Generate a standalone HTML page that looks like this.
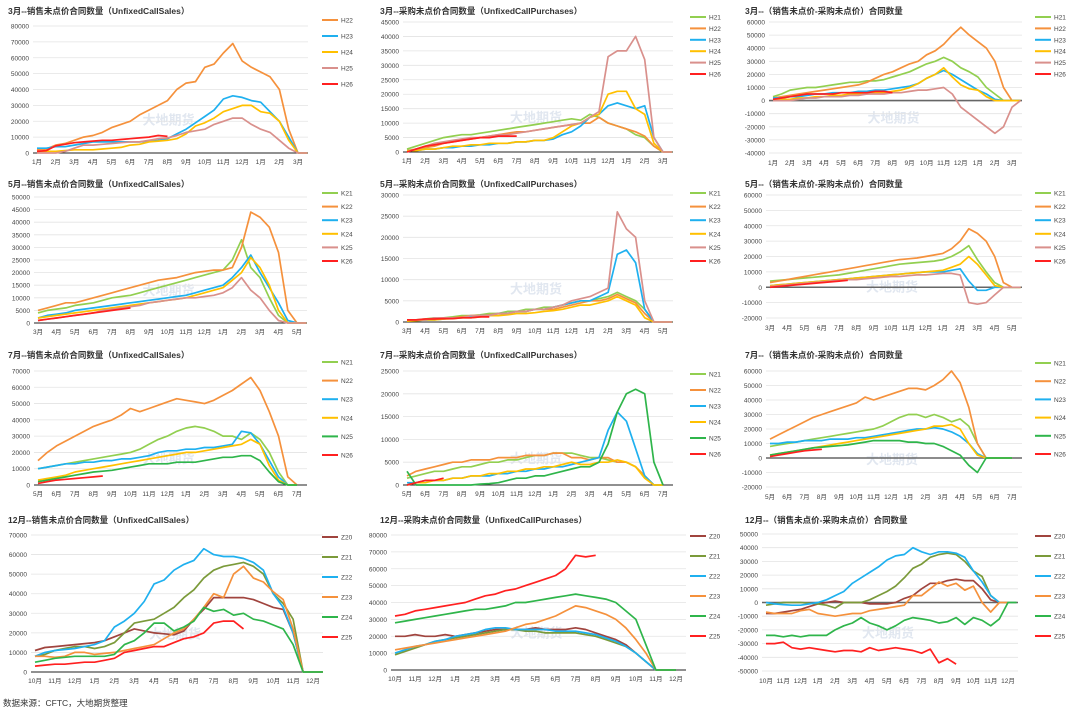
<!DOCTYPE html>
<html><head><meta charset="utf-8">
<style>
html,body{margin:0;padding:0;background:#fff;}
body{width:1080px;height:710px;overflow:hidden;position:relative;font-family:"Liberation Sans","Noto Sans CJK SC",sans-serif;}
svg{position:absolute;left:0;top:0;}
</style></head>
<body>
<svg id="chart" width="1080" height="710"></svg>
<script>
const C={o:'#f5913c',b:'#1fb0ef',y:'#ffc000',p:'#d9908c',r:'#ff2020',g:'#92cf50',dg:'#2fb54b',br:'#a0443e',ol:'#7b9a3a'};
const labelsH=['1月','2月','3月','4月','5月','6月','7月','8月','9月','10月','11月','12月','1月','2月','3月'];
const labelsK=['3月','4月','5月','6月','7月','8月','9月','10月','11月','12月','1月','2月','3月','4月','5月'];
const labelsN=['5月','6月','7月','8月','9月','10月','11月','12月','1月','2月','3月','4月','5月','6月','7月'];
const labelsZ=['10月','11月','12月','1月','2月','3月','4月','5月','6月','7月','8月','9月','10月','11月','12月'];

// R1C1
const h1_H22=[2000,2500,5000,6000,8000,10000,11000,13000,16000,18000,20000,24000,27000,30000,33000,40000,44000,45000,54000,56000,63000,69000,58000,54000,51000,48000,40000,15000,0,0];
const h1_H23=[3000,3000,4000,4000,5000,6000,7000,7000,7000,7000,7000,7000,7500,8000,9000,12000,15000,19000,23000,27000,34000,36000,35000,33000,32000,26000,20000,10000,0,0];
const h1_H24=[1000,1000,1000,1500,2000,2000,2000,2500,3000,3500,5000,5500,7000,7500,8000,9000,12000,17000,19000,22000,26000,28000,30000,30000,26000,25000,20000,8000,0,0];
const h1_H25=[0,0,0,1000,3000,5000,5000,5500,6000,6500,7000,7000,8000,9000,9500,11000,13000,14000,15000,18000,20000,22000,22000,18000,15000,13000,8000,3000,0,0];
const h1_H26=[1000,1500,4500,5500,6500,7000,7500,8000,8000,8500,9000,9500,10000,11000,10500];
// R1C2
const h2_H21=[1000,2000,3000,4000,5000,5500,6000,6000,6500,7000,7500,8000,8500,9000,9500,10000,10500,11000,11500,11000,13000,12000,10000,9000,8000,6000,5000,2000,0,0];
const h2_H22=[500,1000,1500,2000,3000,3500,4000,4500,5000,5500,6000,6500,7000,7000,7500,8000,8500,9000,9500,10000,10000,12000,10000,9000,8000,7000,5500,2000,0,0];
const h2_H23=[500,500,1000,1000,1500,1500,2000,2000,2500,2500,3000,3000,3500,3500,4000,4000,4500,6000,7000,9000,12000,13000,16000,17000,16000,15000,16000,5000,0,0];
const h2_H24=[500,500,1000,1000,1500,2000,2000,2500,2500,3000,3000,3000,3500,3500,4000,4000,5000,7000,9000,10000,12000,13000,20000,21000,21000,15000,13000,3000,0,0];
const h2_H25=[0,1000,2000,3000,3500,4000,4500,5000,5000,5500,6000,6000,6500,7000,7500,8000,8500,9000,9500,10000,12000,14000,33000,35000,35000,40000,32000,5000,0,0];
const h2_H26=[0,1000,2000,2500,3000,3500,4000,4500,5000,5000,5500,5500,5500];
// R1C3
const h3_H21=[3000,5000,8000,9000,10000,10000,11000,12000,13000,14000,14000,15000,15000,16000,18000,20000,22000,25000,28000,30000,33000,30000,25000,22000,18000,10000,5000,0,0,0];
const h3_H22=[2000,3000,4000,5000,6000,7000,8000,9000,10000,11000,12000,14000,17000,20000,22000,25000,28000,30000,35000,38000,43000,50000,56000,50000,45000,40000,30000,10000,0,0];
const h3_H23=[2000,2000,3000,3000,4000,5000,5000,6000,6000,6000,7000,7000,8000,8000,9000,10000,11000,13000,17000,20000,23000,20000,16000,12000,8000,5000,1000,0,0,0];
const h3_H24=[500,1000,1000,2000,2000,3000,3000,4000,4000,5000,5000,5000,6000,6000,7000,8000,10000,13000,17000,20000,25000,18000,12000,9000,8000,3000,0,0,0,0];
const h3_H25=[0,0,0,1000,2000,2000,3000,3000,3000,4000,4000,5000,5000,5000,6000,6000,7000,8000,8000,9000,10000,5000,-5000,-10000,-15000,-20000,-25000,-20000,-5000,0];
const h3_H26=[1000,2000,3000,4000,5000,5000,5000,5000,6000,6000,6000,6000,7000,7000,6000];
// R2C1
const k1_K21=[4000,5000,5500,6000,7000,7500,8000,9000,10000,10500,11000,12000,13000,14000,15000,16000,17000,18000,19000,20000,21000,25000,33000,22000,18000,10000,3000,0,0,0];
const k1_K22=[5000,6000,7000,8000,8000,9000,10000,11000,12000,13000,14000,15000,16000,17000,17500,18000,19000,20000,20500,21000,21000,22000,30000,44000,42000,38000,28000,5000,0,0];
const k1_K23=[2000,3000,3500,4000,5000,5500,6000,6500,7000,7500,8000,8500,9000,9500,10000,10500,11000,12000,13000,14000,15000,18000,22000,27000,20000,14000,8000,1000,0,0];
const k1_K24=[2000,2500,3000,3500,4000,4500,5000,5500,6000,6500,7000,7500,8000,8500,9000,9500,10000,11000,12000,13000,14000,17000,20000,26000,22000,15000,5000,0,0,0];
const k1_K25=[1000,1500,2000,2500,3000,3500,4000,5000,5500,6000,6500,7000,8000,8500,9000,9500,10000,10000,10500,11000,12000,14000,18000,13000,10000,5000,1000,0,0,0];
const k1_K26=[1000,1500,2000,2500,3000,3500,4000,4500,5000,5500,6000];
// R2C2
const k2_K21=[500,500,700,1000,1000,1200,1500,1500,1700,2000,2000,2500,2500,3000,3000,3500,3500,4000,4500,5000,5000,5500,6000,7000,6000,5000,3000,0,0,0];
const k2_K22=[300,500,500,700,1000,1000,1200,1500,1500,1700,2000,2000,2500,2500,3000,3000,3000,3500,4000,4500,5000,5000,5500,6500,5500,4500,2000,0,0,0];
const k2_K23=[300,300,500,500,700,1000,1000,1200,1500,1500,2000,2000,2500,2500,3000,3000,3500,4000,4500,5000,5000,6000,7000,16000,17000,14000,3000,0,0,0];
const k2_K24=[200,300,500,500,700,800,1000,1000,1200,1500,1500,1700,2000,2000,2200,2500,2700,3000,3500,4000,4000,4500,5000,6000,5000,4000,1000,0,0,0];
const k2_K25=[500,500,500,1000,1000,1000,1000,1500,1500,1500,2000,2000,2500,2500,3000,3000,3500,4000,5000,5500,6000,7000,8000,26000,22000,20000,5000,0,0,0];
const k2_K26=[500,500,700,700,800,800,1000,1000,1200,1200];
// R2C3
const k3_K21=[4000,4500,5000,5500,6000,6500,7000,7500,8000,9000,10000,11000,12000,13000,14000,15000,15500,16000,16500,17000,18000,20000,23000,27000,18000,10000,3000,0,0,0];
const k3_K22=[3000,4000,5000,6000,7000,8000,9000,10000,11000,12000,13000,14000,15000,16000,17000,18000,18500,19000,20000,21000,22000,25000,30000,38000,35000,30000,20000,3000,0,0];
const k3_K23=[1000,1500,2000,2500,3000,3500,4000,4500,5000,5500,6000,6500,7000,7500,8000,8500,9000,9500,10000,10000,10000,11000,12000,4000,-2000,-2000,0,0,0,0];
const k3_K24=[1000,1500,2000,2500,3000,3500,4000,4500,5000,5500,6000,6500,7000,7500,8000,8500,9000,9500,10000,10500,11000,13000,15000,20000,15000,8000,1000,0,0,0];
const k3_K25=[500,1000,1500,2000,2500,3000,3500,4000,4500,5000,5000,5500,6000,6500,7000,7000,7500,8000,8000,8500,9000,9000,8000,-10000,-11000,-10000,-5000,0,0,0];
const k3_K26=[0,500,1000,1500,2000,2500,3000,3500,4000,4500];
// R3C1
const n1_N21=[10000,11000,12000,13000,14000,15000,16000,17000,18000,19000,20000,22000,25000,28000,30000,33000,35000,36000,35000,33000,30000,30000,28000,32000,28000,20000,8000,0,0];
const n1_N22=[15000,20000,24000,27000,30000,33000,36000,38000,40000,43000,47000,45000,47000,49000,51000,53000,52000,51000,50000,52000,55000,58000,62000,66000,58000,45000,30000,5000,0];
const n1_N23=[10000,11000,12000,13000,13000,14000,14000,15000,15000,16000,16000,17000,18000,20000,21000,21000,22000,22000,23000,23000,24000,25000,33000,32000,25000,15000,5000,0,0];
const n1_N24=[3000,4000,5000,6000,8000,9000,10000,11000,12000,13000,14000,15000,16000,17000,18000,19000,20000,20000,21000,22000,23000,24000,25000,28000,25000,12000,3000,0,0];
const n1_N25=[2000,3000,4000,5000,6000,7000,8000,8500,9000,10000,11000,12000,13000,13000,13000,14000,14000,14000,15000,16000,17000,17000,18000,18000,15000,8000,2000,0,0];
const n1_N26=[1000,2000,3000,3500,4000,4500,5000,5500];
// R3C2
const n2_N21=[1500,2000,2500,3000,3000,3500,4000,4000,4500,5000,5000,5500,5500,6000,6500,6500,7000,7000,7000,6500,6000,6000,5500,5000,5000,4000,2000,0,0];
const n2_N22=[2000,3000,3500,4000,4500,5000,5000,5500,5500,5500,6000,6000,6000,6500,6500,6500,7000,7000,6000,6000,5500,6000,6000,5000,5000,4000,2000,0,0];
const n2_N23=[500,500,1000,1000,1000,1500,1500,2000,2000,2000,2500,2500,3000,3000,3500,3500,4000,4000,4500,5000,5500,6000,12000,16000,14000,8000,2000,0,0];
const n2_N24=[0,500,500,1000,1000,1500,1500,2000,2000,2500,2500,3000,3000,3500,3500,4000,4000,4500,5000,4500,4500,5000,5000,5500,5000,4000,1500,0,0];
const n2_N25=[3000,0,0,0,0,0,0,0,200,300,500,1000,1500,1500,2000,2000,2500,3000,3500,4000,4000,5000,9000,16000,20000,21000,20000,5000,0];
const n2_N26=[0,500,1000,1000,1500];
// R3C3
const n3_N21=[8000,9000,10000,11000,12000,13000,14000,15000,16000,17000,18000,19000,20000,22000,25000,28000,30000,30000,28000,30000,28000,25000,27000,22000,10000,0,0,0,0];
const n3_N22=[13000,16000,19000,22000,25000,28000,30000,32000,34000,36000,38000,42000,40000,42000,44000,46000,48000,48000,47000,50000,54000,60000,52000,35000,10000,0,0,0,0];
const n3_N23=[10000,10000,11000,11000,12000,12000,12000,13000,13000,13000,14000,14000,15000,16000,17000,18000,19000,20000,20000,21000,20000,18000,15000,10000,3000,0,0,0,0];
const n3_N24=[2000,3000,4000,5000,6000,7000,8000,9000,10000,11000,12000,13000,14000,15000,16000,17000,18000,19000,20000,22000,22000,23000,20000,10000,2000,0,0,0,0];
const n3_N25=[2000,3000,4000,5000,6000,7000,7500,8000,8500,9000,10000,11000,12000,12000,12000,12000,11000,11000,10000,10000,8000,5000,2000,-5000,-10000,0,0,0,0];
const n3_N26=[1000,2000,3000,4000,5000,5500,6000];
// R4C1
const z1_Z20=[11000,12500,13000,13500,14000,14500,15000,16000,18000,20000,22000,21000,20000,19500,19000,21000,27000,32000,38000,38000,38000,38000,37000,35000,33000,32000,20000,0,0,0];
const z1_Z21=[8000,9000,11000,12000,13000,13000,12000,13000,15000,20000,25000,26000,27000,30000,33000,38000,42000,48000,52000,54000,55000,56000,54000,50000,40000,35000,27000,0,0,0];
const z1_Z22=[8000,10000,11000,11500,12000,13000,14000,16000,23000,26000,30000,36000,45000,47000,52000,55000,57000,63000,60000,59000,59000,58000,56000,52000,40000,33000,20000,0,0,0];
const z1_Z23=[8000,8000,7500,8000,10000,10000,9000,9500,10000,11000,12000,13000,14000,17000,20000,22000,27000,33000,40000,38000,50000,54000,48000,46000,41000,37000,22000,0,0,0];
const z1_Z24=[5000,6000,7000,7500,8000,8000,8000,8000,9000,14000,16000,20000,25000,25000,21000,23000,26000,33000,31000,32000,29000,30000,27000,26000,24000,22000,14000,0,0,0];
const z1_Z25=[3000,3500,4000,4000,4500,5000,5000,6000,7000,10000,11000,12000,13000,13000,15000,17000,18000,20000,25000,26000,26000,22000];
// R4C2
const z2_Z20=[20000,20000,21000,20000,20000,21000,20000,21000,22000,23000,24000,24000,24000,24000,25000,24000,24000,24000,25000,24000,22000,20000,18000,15000,10000,5000,0,0,0];
const z2_Z21=[9000,11000,13000,15000,17000,18000,19000,20000,21000,22000,23000,24000,24000,23000,23000,22000,22000,22000,22000,21000,20000,18000,16000,14000,10000,5000,0,0,0];
const z2_Z22=[10000,12000,14000,15000,17000,18000,20000,21000,22000,24000,25000,25000,24000,24000,24000,24000,23000,23000,23000,22000,21000,19000,17000,14000,10000,5000,0,0,0];
const z2_Z23=[12000,13000,14000,15000,16000,17000,18000,19000,20000,21000,22000,23000,25000,27000,28000,30000,32000,35000,38000,37000,35000,33000,30000,25000,18000,10000,0,0,0];
const z2_Z24=[28000,29000,30000,31000,32000,33000,34000,35000,36000,36000,37000,38000,40000,40000,41000,42000,43000,44000,45000,44000,43000,42000,40000,35000,30000,15000,0,0,0];
const z2_Z25=[32000,33000,35000,36000,37000,38000,39000,40000,42000,44000,45000,47000,48000,50000,52000,54000,56000,60000,68000,67000,68000];
// R4C3
const z3_Z20=[-8000,-8000,-7000,-6000,-5000,-3000,-1000,0,1000,0,0,0,-1000,-1000,-1000,0,3000,5000,10000,14000,14000,16000,17000,16000,16000,10000,2000,0,0];
const z3_Z21=[-2000,-1000,0,0,0,-500,-1000,-2000,-4000,0,0,0,2000,5000,8000,12000,18000,25000,28000,33000,35000,36000,35000,30000,23000,19000,5000,0,0];
const z3_Z22=[0,-1000,-1500,-2000,-2000,-1000,0,2000,5000,8000,14000,18000,22000,26000,31000,34000,35000,40000,37000,35000,37000,37000,36000,33000,23000,15000,5000,0,0];
const z3_Z23=[-7000,-8000,-8000,-8000,-6000,-5000,-8000,-9000,-10000,-9000,-8000,-8000,-6000,-5000,-4000,-3000,-2000,5000,5000,10000,15000,12000,14000,9000,12000,0,-7000,0,0];
const z3_Z24=[-24000,-24000,-25000,-24000,-25000,-24000,-24000,-24000,-20000,-17000,-15000,-11000,-15000,-17000,-20000,-17000,-13000,-11000,-12000,-13000,-15000,-14000,-11000,-16000,-11000,-13000,-17000,-12000,0,0];
const z3_Z25=[-30000,-30000,-29000,-33000,-34000,-33000,-34000,-35000,-36000,-35000,-35000,-36000,-33000,-35000,-34000,-33000,-34000,-35000,-37000,-34000,-44000,-41000,-45000];

const panels=[
 {id:'p-r1c1',title:'3月--销售未点价合同数量（UnfixedCallSales）',tx:8,ty:14,x0:37,x1:298,yT:26,yB:153,min:0,max:80000,step:10000,labels:labelsH,lx:322,ly:20,ls:16,
  series:[['H22',h1_H22,C.o],['H23',h1_H23,C.b],['H24',h1_H24,C.y],['H25',h1_H25,C.p],['H26',h1_H26,C.r]]},
 {id:'p-r1c2',title:'3月--采购未点价合同数量（UnfixedCallPurchases）',tx:380,ty:14,x0:407,x1:663,yT:22,yB:152,min:0,max:45000,step:5000,labels:labelsH,lx:690,ly:17,ls:11.4,
  series:[['H21',h2_H21,C.g],['H22',h2_H22,C.o],['H23',h2_H23,C.b],['H24',h2_H24,C.y],['H25',h2_H25,C.p],['H26',h2_H26,C.r]]},
 {id:'p-r1c3',title:'3月--（销售未点价-采购未点价）合同数量',tx:745,ty:14,x0:773,x1:1012,yT:22,yB:153,min:-40000,max:60000,step:10000,labels:labelsH,lx:1035,ly:17,ls:11.4,zero:true,
  series:[['H21',h3_H21,C.g],['H22',h3_H22,C.o],['H23',h3_H23,C.b],['H24',h3_H24,C.y],['H25',h3_H25,C.p],['H26',h3_H26,C.r]]},
 {id:'p-r2c1',title:'5月--销售未点价合同数量（UnfixedCallSales）',tx:8,ty:187,x0:38,x1:297,yT:197,yB:323,min:0,max:50000,step:5000,labels:labelsK,lx:322,ly:193,ls:13.6,
  series:[['K21',k1_K21,C.g],['K22',k1_K22,C.o],['K23',k1_K23,C.b],['K24',k1_K24,C.y],['K25',k1_K25,C.p],['K26',k1_K26,C.r]]},
 {id:'p-r2c2',title:'5月--采购未点价合同数量（UnfixedCallPurchases）',tx:380,ty:187,x0:407,x1:663,yT:195,yB:322,min:0,max:30000,step:5000,labels:labelsK,lx:690,ly:193,ls:13.6,
  series:[['K21',k2_K21,C.g],['K22',k2_K22,C.o],['K23',k2_K23,C.b],['K24',k2_K24,C.y],['K25',k2_K25,C.p],['K26',k2_K26,C.r]]},
 {id:'p-r2c3',title:'5月--（销售未点价-采购未点价）合同数量',tx:745,ty:187,x0:770,x1:1012,yT:195,yB:318,min:-20000,max:60000,step:10000,labels:labelsK,lx:1035,ly:193,ls:13.6,zero:true,
  series:[['K21',k3_K21,C.g],['K22',k3_K22,C.o],['K23',k3_K23,C.b],['K24',k3_K24,C.y],['K25',k3_K25,C.p],['K26',k3_K26,C.r]]},
 {id:'p-r3c1',title:'7月--销售未点价合同数量（UnfixedCallSales）',tx:8,ty:358,x0:38,x1:297,yT:371,yB:485,min:0,max:70000,step:10000,labels:labelsN,lx:322,ly:362,ls:18.6,
  series:[['N21',n1_N21,C.g],['N22',n1_N22,C.o],['N23',n1_N23,C.b],['N24',n1_N24,C.y],['N25',n1_N25,C.dg],['N26',n1_N26,C.r]]},
 {id:'p-r3c2',title:'7月--采购未点价合同数量（UnfixedCallPurchases）',tx:380,ty:358,x0:407,x1:663,yT:371,yB:485,min:0,max:25000,step:5000,labels:labelsN,lx:690,ly:374,ls:16,
  series:[['N21',n2_N21,C.g],['N22',n2_N22,C.o],['N23',n2_N23,C.b],['N24',n2_N24,C.y],['N25',n2_N25,C.dg],['N26',n2_N26,C.r]]},
 {id:'p-r3c3',title:'7月--（销售未点价-采购未点价）合同数量',tx:745,ty:358,x0:770,x1:1012,yT:371,yB:487,min:-20000,max:60000,step:10000,labels:labelsN,lx:1035,ly:363,ls:18.2,zero:true,
  series:[['N21',n3_N21,C.g],['N22',n3_N22,C.o],['N23',n3_N23,C.b],['N24',n3_N24,C.y],['N25',n3_N25,C.dg],['N26',n3_N26,C.r]]},
 {id:'p-r4c1',title:'12月--销售未点价合同数量（UnfixedCallSales）',tx:8,ty:523,x0:35,x1:313,yT:535,yB:672,min:0,max:70000,step:10000,labels:labelsZ,lx:322,ly:537,ls:20,
  series:[['Z20',z1_Z20,C.br],['Z21',z1_Z21,C.ol],['Z22',z1_Z22,C.b],['Z23',z1_Z23,C.o],['Z24',z1_Z24,C.dg],['Z25',z1_Z25,C.r]]},
 {id:'p-r4c2',title:'12月--采购未点价合同数量（UnfixedCallPurchases）',tx:380,ty:523,x0:395,x1:676,yT:535,yB:670,min:0,max:80000,step:10000,labels:labelsZ,lx:690,ly:536,ls:20,
  series:[['Z20',z2_Z20,C.br],['Z21',z2_Z21,C.ol],['Z22',z2_Z22,C.b],['Z23',z2_Z23,C.o],['Z24',z2_Z24,C.dg],['Z25',z2_Z25,C.r]]},
 {id:'p-r4c3',title:'12月--（销售未点价-采购未点价）合同数量',tx:745,ty:523,x0:766,x1:1008,yT:534,yB:671,min:-50000,max:50000,step:10000,labels:labelsZ,lx:1035,ly:536,ls:20,zero:true,
  series:[['Z20',z3_Z20,C.br],['Z21',z3_Z21,C.ol],['Z22',z3_Z22,C.b],['Z23',z3_Z23,C.o],['Z24',z3_Z24,C.dg],['Z25',z3_Z25,C.r]]}
];

const NS='http://www.w3.org/2000/svg';
const svg=document.getElementById('chart');
function mk(tag,attrs,parent){const e=document.createElementNS(NS,tag);for(const k in attrs)e.setAttribute(k,attrs[k]);(parent||svg).appendChild(e);return e;}

panels.forEach(P=>{
  const g=mk('g',{});
  
  
  const xs=i=>P.x0+i*(P.x1-P.x0)/28;
  const ys=v=>P.yB-(v-P.min)/(P.max-P.min)*(P.yB-P.yT);
  const t=mk('text',{x:P.tx,y:P.ty,'font-size':8.5,'font-weight':'bold',fill:'#333'},g);
  t.textContent=P.title;
  
  
  // watermark
  const wm=mk('text',{x:(P.x0+P.x1)/2-25,y:(P.yT+P.yB)/2+35,'font-size':13,'font-weight':'bold',fill:'#c9d3e3','fill-opacity':0.55},g);
  wm.textContent='大地期货';
  
  
  for(let v=P.min;v<=P.max+1;v+=P.step){
    const y=ys(v);
    const gl=mk('line',{x1:P.x0-4,x2:P.x1+10,y1:y,y2:y,stroke:'#e3e3e3','stroke-width':0.8},g);
    
    
    const tl=mk('text',{x:P.x0-8,y:y+2.5,'font-size':6.5,fill:'#444','text-anchor':'end'},g);
    tl.textContent=String(v);
    
    
  }
  const ax=mk('line',{x1:P.x0-4,x2:P.x1+10,y1:ys(0),y2:ys(0),stroke:P.zero?'#666':'#222','stroke-width':P.zero?1.6:1},g);
  
  
  P.labels.forEach((l,j)=>{
    const xl=mk('text',{x:xs(2*j),y:P.yB+(P.zero?12:11),'font-size':6.5,fill:'#444','text-anchor':'middle'},g);
    xl.textContent=l;
    
    
  });
  P.series.forEach((s,k)=>{
    const pts=s[1].map((v,i)=>xs(i).toFixed(1)+','+ys(v).toFixed(1)).join(' ');
    const pl=mk('polyline',{points:pts,fill:'none',stroke:s[2],'stroke-width':1.7,'stroke-linejoin':'round'},g);
    
    
    const ly=P.ly+k*P.ls;
    const ll=mk('line',{x1:P.lx,x2:P.lx+16,y1:ly,y2:ly,stroke:s[2],'stroke-width':2},g);
    
    
    const lt=mk('text',{x:P.lx+19,y:ly+2.5,'font-size':6.5,fill:'#444'},g);
    lt.textContent=s[0];
    
    
  });
});
const src=mk('text',{x:3,y:706,'font-size':8.5,fill:'#333'});
src.textContent='数据来源：CFTC，大地期货整理';


</script>
</body></html>
